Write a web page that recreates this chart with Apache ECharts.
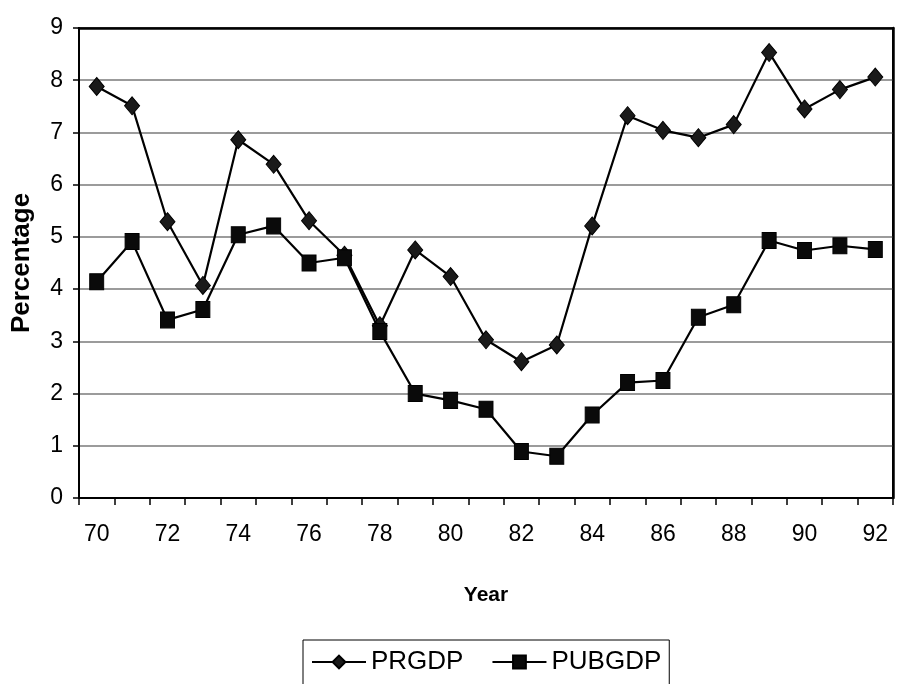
<!DOCTYPE html>
<html>
<head>
<meta charset="utf-8">
<script src="https://cdn.jsdelivr.net/npm/echarts@6/dist/echarts.min.js"></script>
<style>
html,body{margin:0;padding:0;background:#fff;overflow:hidden;}
#chart{width:897px;height:684px;}
</style>
</head>
<body>
<div id="chart"></div>
<script>
var years = ['70','71','72','73','74','75','76','77','78','79','80','81','82','83','84','85','86','87','88','89','90','91','92'];
var prgdp = [7.88,7.51,5.29,4.07,6.86,6.39,5.31,4.65,3.30,4.75,4.24,3.03,2.61,2.93,5.21,7.32,7.04,6.90,7.15,8.53,7.45,7.82,8.06];
var pubgdp = [4.14,4.91,3.41,3.61,5.04,5.21,4.50,4.60,3.19,2.00,1.87,1.70,0.89,0.80,1.59,2.21,2.25,3.46,3.70,4.93,4.74,4.83,4.76];
var yTicks = {min:0, max:9, interval:1};

var FONT = '"Liberation Sans", Arial, sans-serif';
var chart = echarts.init(document.getElementById('chart'), null, {renderer:'canvas', width:897, height:684});
chart.setOption({
  animation:false,
  backgroundColor:'#fff',
  grid:{left:79, right:4, top:28, bottom:186, containLabel:false, outerBoundsMode:'none',
        show:true, borderColor:'#000', borderWidth:2, backgroundColor:'rgba(0,0,0,0)'},
  legend:{
    data:['PRGDP','PUBGDP'],
    left:303, top:640,
    padding:[9,8,24,8],
    itemGap:28,
    itemWidth:54, itemHeight:16,
    borderColor:'#000', borderWidth:1,
    textStyle:{fontFamily:FONT, fontSize:26, color:'#000'}
  },
  xAxis:[{
    type:'category', data:years, boundaryGap:true, position:'bottom',
    name:'Year', nameLocation:'middle', nameGap:87,
    nameTextStyle:{fontFamily:FONT, fontSize:21, fontWeight:'bold', color:'#000'},
    axisLine:{onZero:false, lineStyle:{color:'#000', width:2}},
    axisTick:{show:true, interval:0, length:7, lineStyle:{color:'#000', width:1.5}},
    axisLabel:{interval:1, fontFamily:FONT, fontSize:23, color:'#000', margin:25},
    splitLine:{show:false}
  },{
    type:'category', data:years, position:'top', z:5,
    axisLine:{show:true, onZero:false, lineStyle:{color:'#000', width:2.5}},
    axisTick:{show:false}, axisLabel:{show:false}, splitLine:{show:false}
  }],
  yAxis:[{
    type:'value', min:yTicks.min, max:yTicks.max, interval:yTicks.interval, position:'left',
    name:'Percentage', nameLocation:'middle', nameGap:44, nameRotate:90,
    nameTextStyle:{fontFamily:FONT, fontSize:26, fontWeight:'bold', color:'#000'},
    axisLine:{show:true, onZero:false, lineStyle:{color:'#000', width:2}},
    axisTick:{show:true, length:6, lineStyle:{color:'#000', width:1.5}},
    axisLabel:{fontFamily:FONT, fontSize:23, color:'#000', margin:16},
    splitLine:{show:true, lineStyle:{color:'#7a7a7a', width:1.5}}
  },{
    type:'value', min:yTicks.min, max:yTicks.max, interval:yTicks.interval, position:'right', z:5,
    axisLine:{show:true, onZero:false, lineStyle:{color:'#000', width:2.5}},
    axisTick:{show:false}, axisLabel:{show:false}, splitLine:{show:false}
  }],
  series:[
    {name:'PRGDP', type:'line', data:prgdp, symbol:'diamond', symbolSize:[15,18],
     itemStyle:{color:'#1a1a1a', borderColor:'#000', borderWidth:1},
     lineStyle:{color:'#000', width:2.2}, z:3},
    {name:'PUBGDP', type:'line', data:pubgdp, symbol:'rect', symbolSize:[14,16],
     itemStyle:{color:'#0a0a0a', borderColor:'#000', borderWidth:1},
     lineStyle:{color:'#000', width:2.2}, z:4},
    {name:'frame', type:'line', xAxisIndex:1, yAxisIndex:1, data:[], silent:true}
  ]
});
</script>
</body>
</html>
